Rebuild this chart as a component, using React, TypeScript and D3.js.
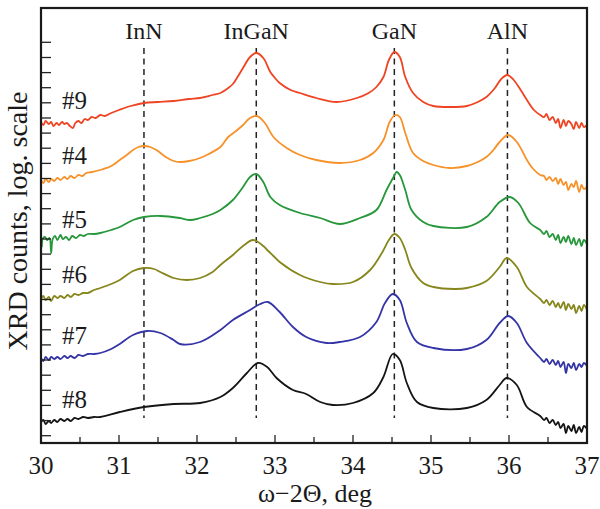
import React from "react";
import * as d3 from "d3";

// ---- data (x: ω-2Θ deg, y: log counts, arb. units with vertical offsets) ----
const s9: [number, number][] = [
  [30.0, 32.1], [30.03, 31.8], [30.06, 32.2], [30.1, 31.9], [30.13, 32.1], [30.16, 31.7], [30.2, 32.0], [30.23, 31.8],
  [30.27, 32.1], [30.3, 31.9], [30.33, 32.0], [30.37, 31.7], [30.41, 31.5], [30.44, 32.0], [30.48, 32.2], [30.52, 32.0],
  [30.56, 32.4], [30.6, 32.3], [30.65, 32.6], [30.7, 32.5], [30.76, 32.8], [30.82, 32.7], [30.9, 33.0], [31.0, 33.3],
  [31.15, 33.7], [31.32, 34.0], [31.5, 34.1], [31.7, 34.2], [31.9, 34.4], [32.04, 34.5], [32.2, 34.8], [32.3, 35.0],
  [32.4, 35.5], [32.46, 35.9], [32.52, 36.6], [32.59, 37.5], [32.68, 38.6], [32.76, 39.0], [32.85, 38.5], [32.94, 37.1],
  [33.0, 36.5], [33.06, 36.0], [33.2, 35.3], [33.32, 35.0], [33.53, 34.5], [33.79, 34.1], [34.05, 34.5], [34.2, 35.0],
  [34.3, 35.6], [34.39, 36.6], [34.46, 38.3], [34.53, 39.1], [34.6, 38.6], [34.67, 36.6], [34.77, 35.0], [34.9, 34.1],
  [35.03, 33.7], [35.25, 33.6], [35.46, 33.7], [35.6, 34.1], [35.71, 34.6], [35.82, 35.5], [35.9, 36.4], [35.98, 36.8],
  [36.06, 36.3], [36.15, 35.3], [36.23, 34.3], [36.32, 33.3], [36.4, 32.8], [36.45, 32.6], [36.48, 32.9], [36.52, 32.3],
  [36.56, 32.6], [36.6, 32.0], [36.63, 32.4], [36.66, 31.5], [36.7, 32.3], [36.73, 31.7], [36.76, 32.2], [36.8, 31.9],
  [36.83, 31.4], [36.86, 32.1], [36.9, 31.5], [36.93, 32.0], [36.96, 31.6], [37.0, 31.8],
];
const s4: [number, number][] = [
  [30.0, 26.3], [30.03, 26.0], [30.06, 26.4], [30.1, 26.1], [30.13, 26.4], [30.17, 26.2], [30.21, 26.5], [30.25, 26.3],
  [30.3, 26.6], [30.34, 26.4], [30.38, 26.7], [30.43, 26.5], [30.48, 26.8], [30.53, 26.7], [30.58, 27.0], [30.65, 27.1],
  [30.76, 27.3], [30.9, 27.7], [31.01, 28.3], [31.1, 28.8], [31.18, 29.3], [31.25, 29.6], [31.32, 29.7], [31.4, 29.6],
  [31.48, 29.3], [31.6, 28.6], [31.7, 28.2], [31.78, 28.1], [31.9, 28.2], [32.04, 28.5], [32.15, 28.9], [32.3, 29.6],
  [32.4, 30.6], [32.5, 31.2], [32.59, 31.8], [32.68, 32.5], [32.77, 32.7], [32.87, 32.0], [32.98, 30.6], [33.15, 29.5],
  [33.32, 28.8], [33.53, 28.3], [33.83, 28.0], [34.09, 28.3], [34.26, 29.0], [34.39, 30.3], [34.47, 32.1], [34.54, 32.8],
  [34.6, 32.6], [34.67, 31.0], [34.77, 29.0], [34.9, 28.2], [35.03, 27.8], [35.24, 27.5], [35.46, 27.7], [35.6, 28.1],
  [35.71, 28.6], [35.8, 29.3], [35.88, 30.1], [35.99, 30.8], [36.1, 30.1], [36.23, 28.3], [36.3, 27.5], [36.4, 26.8],
  [36.45, 26.7], [36.48, 26.3], [36.52, 26.6], [36.56, 26.2], [36.6, 26.5], [36.63, 25.9], [36.66, 26.4], [36.7, 25.8],
  [36.73, 26.1], [36.76, 25.3], [36.8, 25.9], [36.83, 25.6], [36.86, 26.2], [36.9, 25.1], [36.93, 25.8], [36.96, 25.4],
  [37.0, 25.6],
];
const s5: [number, number][] = [
  [30.0, 20.5], [30.01, 19.6], [30.02, 20.4], [30.05, 20.6], [30.08, 20.3], [30.11, 20.5], [30.13, 19.0], [30.15, 20.4],
  [30.18, 20.7], [30.21, 20.3], [30.25, 20.8], [30.28, 20.4], [30.32, 20.6], [30.36, 20.3], [30.4, 20.7], [30.45, 20.5],
  [30.5, 20.8], [30.55, 20.7], [30.6, 20.9], [30.68, 20.9], [30.76, 21.0], [30.9, 21.3], [31.01, 21.6], [31.18, 22.3],
  [31.32, 22.6], [31.53, 22.7], [31.78, 22.5], [31.91, 22.3], [32.04, 22.5], [32.2, 22.9], [32.3, 23.3], [32.46, 24.3],
  [32.59, 25.6], [32.68, 26.6], [32.76, 26.9], [32.85, 26.1], [32.94, 24.6], [33.06, 23.8], [33.32, 23.0], [33.58, 22.5],
  [33.83, 21.9], [34.09, 22.5], [34.3, 23.3], [34.43, 25.3], [34.52, 26.6], [34.56, 27.1], [34.6, 26.8], [34.67, 25.3],
  [34.75, 23.3], [34.9, 22.1], [35.03, 21.7], [35.46, 21.6], [35.71, 22.6], [35.88, 24.1], [36.01, 24.6], [36.12, 24.0],
  [36.27, 22.0], [36.4, 21.3], [36.45, 20.9], [36.48, 21.2], [36.52, 20.6], [36.56, 20.9], [36.6, 20.3], [36.63, 20.8],
  [36.66, 20.0], [36.7, 20.6], [36.73, 20.1], [36.76, 20.7], [36.8, 19.9], [36.83, 20.5], [36.86, 19.8], [36.9, 20.4],
  [36.93, 19.7], [36.96, 20.3], [37.0, 19.9],
];
const s6: [number, number][] = [
  [30.0, 14.4], [30.03, 14.7], [30.06, 14.3], [30.1, 14.6], [30.13, 14.2], [30.17, 14.7], [30.21, 14.5], [30.25, 14.7],
  [30.3, 14.5], [30.34, 14.8], [30.38, 14.6], [30.43, 14.9], [30.48, 14.8], [30.54, 15.0], [30.6, 15.0], [30.68, 15.3],
  [30.76, 15.5], [30.9, 15.9], [31.01, 16.3], [31.18, 17.2], [31.32, 17.5], [31.45, 17.4], [31.53, 17.1], [31.7, 16.5],
  [31.87, 16.3], [32.04, 16.5], [32.2, 17.1], [32.3, 17.8], [32.46, 18.8], [32.59, 19.7], [32.72, 20.3], [32.85, 19.7],
  [32.9, 19.3], [32.98, 18.7], [33.06, 18.1], [33.32, 16.8], [33.58, 16.1], [33.74, 15.9], [34.0, 16.1], [34.22, 17.3],
  [34.37, 19.0], [34.46, 20.3], [34.53, 20.9], [34.6, 20.5], [34.67, 19.3], [34.75, 17.5], [34.9, 16.0], [35.03, 15.6],
  [35.3, 15.4], [35.46, 15.5], [35.71, 16.2], [35.88, 17.6], [35.97, 18.5], [36.1, 17.6], [36.23, 15.6], [36.4, 14.4],
  [36.45, 14.0], [36.48, 14.3], [36.52, 13.8], [36.56, 14.2], [36.6, 13.6], [36.63, 14.0], [36.66, 13.5], [36.7, 14.1],
  [36.73, 13.3], [36.76, 13.9], [36.8, 13.4], [36.83, 13.8], [36.86, 13.0], [36.9, 13.7], [36.93, 13.2], [36.96, 13.8],
  [37.0, 13.3],
];
const s7: [number, number][] = [
  [30.0, 8.5], [30.03, 8.2], [30.06, 8.6], [30.1, 8.3], [30.13, 8.6], [30.17, 8.4], [30.21, 8.6], [30.25, 8.4],
  [30.3, 8.7], [30.34, 8.5], [30.38, 8.7], [30.43, 8.5], [30.48, 8.8], [30.54, 8.7], [30.6, 8.9], [30.68, 8.9],
  [30.76, 9.0], [30.9, 9.4], [31.01, 9.9], [31.18, 10.8], [31.36, 11.2], [31.53, 11.0], [31.7, 10.3], [31.78, 9.9],
  [32.04, 10.1], [32.3, 11.3], [32.46, 12.3], [32.68, 13.3], [32.81, 13.9], [32.91, 14.1], [33.06, 13.1], [33.23, 11.6],
  [33.4, 10.6], [33.66, 10.0], [33.83, 10.1], [34.09, 10.6], [34.3, 12.1], [34.41, 14.0], [34.51, 14.9], [34.6, 14.3],
  [34.69, 12.0], [34.82, 10.1], [35.03, 9.5], [35.46, 9.4], [35.71, 10.3], [35.88, 12.0], [35.99, 12.7], [36.1, 12.0],
  [36.23, 10.0], [36.4, 8.5], [36.45, 8.1], [36.48, 8.4], [36.52, 7.9], [36.56, 8.3], [36.6, 7.8], [36.63, 8.2],
  [36.66, 7.6], [36.7, 8.1], [36.73, 7.0], [36.76, 7.9], [36.8, 7.5], [36.83, 8.0], [36.86, 7.3], [36.9, 7.9],
  [36.93, 7.6], [36.96, 8.0], [37.0, 7.7],
];
const s8: [number, number][] = [
  [30.0, 2.1], [30.03, 2.3], [30.06, 1.9], [30.1, 2.2], [30.13, 2.0], [30.17, 2.3], [30.21, 2.1], [30.25, 2.4],
  [30.3, 2.2], [30.34, 2.4], [30.38, 2.2], [30.43, 2.5], [30.48, 2.4], [30.54, 2.6], [30.6, 2.5], [30.68, 2.6],
  [30.76, 2.6], [31.01, 3.1], [31.32, 3.6], [31.7, 3.9], [32.04, 4.0], [32.3, 4.6], [32.46, 5.5], [32.64, 7.0],
  [32.78, 8.0], [32.9, 7.6], [33.02, 6.5], [33.23, 5.3], [33.4, 4.9], [33.58, 4.1], [33.74, 3.8], [34.0, 4.0],
  [34.26, 5.0], [34.39, 6.6], [34.51, 8.9], [34.6, 8.3], [34.69, 6.0], [34.82, 4.1], [35.03, 3.5], [35.46, 3.5],
  [35.71, 4.3], [35.88, 5.8], [35.97, 6.5], [36.1, 5.8], [36.23, 3.6], [36.4, 2.7], [36.45, 2.3], [36.48, 2.5],
  [36.52, 2.0], [36.56, 2.3], [36.6, 1.8], [36.63, 2.1], [36.66, 1.5], [36.7, 1.9], [36.73, 1.0], [36.76, 1.7],
  [36.8, 1.2], [36.83, 1.8], [36.86, 1.0], [36.9, 1.6], [36.93, 1.1], [36.96, 1.7], [37.0, 1.4],
];

const seriesNames = ["#9", "#4", "#5", "#6", "#7", "#8"];
const seriesData = [s9, s4, s5, s6, s7, s8];
const seriesColors = ["#ee4423", "#f7922a", "#26973a", "#86861c", "#3434a6", "#151515"];
const labelLevels = [34.0, 28.5, 22.1, 16.6, 10.5, 4.1];

const refNames = ["InN", "InGaN", "GaN", "AlN"];
const refPositions = [31.32, 32.76, 34.53, 35.98];

const xTickLabels = [30, 31, 32, 33, 34, 35, 36, 37];
const yTicks = [
  0.73, 2.24, 3.76, 5.27, 6.78, 8.3, 9.81, 11.32, 12.83, 14.35, 15.86, 17.37, 18.89, 20.4,
  21.91, 23.43, 24.94, 26.45, 27.96, 29.48, 30.99, 32.5, 34.02, 35.53, 37.04, 38.55, 40.07,
];

const W = 600;
const H = 509;
const M = { left: 41, right: 587, top: 8, bottom: 443 };
const FONT = "'Liberation Serif', 'Times New Roman', serif";

export default function App() {
  const x = d3.scaleLinear().domain([30, 37]).range([M.left, M.right]);
  const y = d3.scaleLinear().domain([0, 43.5]).range([M.bottom, M.top]);
  const line = d3
    .line<[number, number]>()
    .x((d) => x(d[0]))
    .y((d) => y(d[1]))
    .curve(d3.curveCatmullRom.alpha(0.5));
  const minorX = d3.range(30, 37.01, 0.5);

  return (
    <svg width={W} height={H} style={{ display: "block", position: "absolute", left: 0, top: 0 }}>
      <rect width={W} height={H} fill="#fff" />
      {refPositions.map((p, i) => (
        <g key={refNames[i]}>
          <line
            x1={x(p)}
            x2={x(p)}
            y1={y(39.5)}
            y2={y(2.5)}
            stroke="#222"
            strokeWidth={1.5}
            strokeDasharray="6,4.5"
          />
          <text x={x(p)} y={39} textAnchor="middle" fontFamily={FONT} fontSize={24} fill="#1a1a1a">
            {refNames[i]}
          </text>
        </g>
      ))}
      {seriesData.map((d, i) => (
        <path
          key={seriesNames[i]}
          d={line(d) || ""}
          fill="none"
          stroke={seriesColors[i]}
          strokeWidth={1.8}
          strokeLinejoin="round"
        />
      ))}
      {seriesNames.map((n, i) => (
        <text
          key={n}
          x={x(30.27)}
          y={y(labelLevels[i])}
          fontFamily={FONT}
          fontSize={25}
          fill="#1a1a1a"
          dominantBaseline="middle"
        >
          {n}
        </text>
      ))}
      {yTicks.map((t) => (
        <line key={t} x1={M.left} x2={M.left + 10} y1={y(t)} y2={y(t)} stroke="#222" strokeWidth={1.3} />
      ))}
      {minorX.map((t) => {
        const major = Math.abs(t - Math.round(t)) < 1e-6;
        return (
          <line
            key={t}
            x1={x(t)}
            x2={x(t)}
            y1={M.bottom}
            y2={M.bottom - (major ? 8 : 6)}
            stroke="#222"
            strokeWidth={1.3}
          />
        );
      })}
      {xTickLabels.map((t) => (
        <text key={t} x={x(t)} y={474} textAnchor="middle" fontFamily={FONT} fontSize={25} fill="#1a1a1a">
          {t}
        </text>
      ))}
      <rect
        x={M.left}
        y={M.top}
        width={M.right - M.left}
        height={M.bottom - M.top}
        fill="none"
        stroke="#1a1a1a"
        strokeWidth={2.2}
      />
      <text x={315} y={502} textAnchor="middle" fontFamily={FONT} fontSize={26} fill="#1a1a1a">
        ω−2Θ, deg
      </text>
      <text
        transform={`translate(27, 221) rotate(-90)`}
        textAnchor="middle"
        fontFamily={FONT}
        fontSize={28}
        fill="#1a1a1a"
      >
        XRD counts, log. scale
      </text>
    </svg>
  );
}
